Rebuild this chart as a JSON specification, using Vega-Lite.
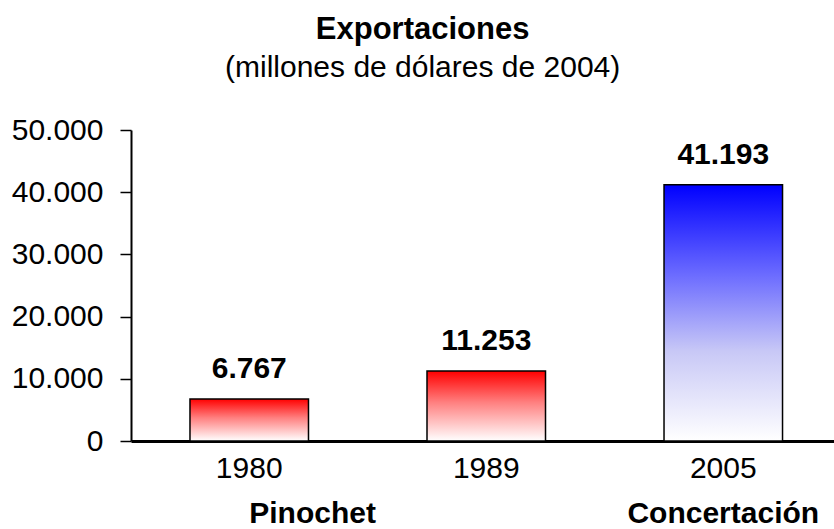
{
  "$schema": "https://vega.github.io/schema/vega-lite/v6.json",
  "autosize": "none",
  "padding": {"left": 131, "top": 130, "right": 0, "bottom": 88},
  "width": 703,
  "height": 311,
  "background": "white",
  "config": {
    "locale": {"number": {"decimal": ",", "thousands": ".", "grouping": [3], "currency": ["$", ""]}},
    "font": "Liberation Sans",
    "view": {"stroke": null}
  },
  "title": {
    "text": "Exportaciones",
    "subtitle": "(millones de dólares de 2004)",
    "font": "Liberation Sans",
    "subtitleFont": "Liberation Sans",
    "fontSize": 31,
    "subtitleFontSize": 30,
    "fontWeight": "bold",
    "color": "black",
    "subtitleColor": "black",
    "anchor": "middle",
    "frame": "bounds",
    "offset": 31,
    "subtitlePadding": 7
  },
  "data": {
    "values": [
      {"year": "1980", "valor": 6767, "gobierno": "Pinochet"},
      {"year": "1989", "valor": 11253, "gobierno": "Pinochet"},
      {"year": "2005", "valor": 41193, "gobierno": "Concertación"}
    ]
  },
  "resolve": {"axis": {"x": "independent"}},
  "layer": [
    {
      "transform": [{"filter": "datum.gobierno == 'Pinochet'"}],
      "mark": {
        "type": "bar",
        "stroke": "black",
        "strokeWidth": 1.5,
        "color": {"gradient": "linear", "x1": 0, "y1": 0, "x2": 0, "y2": 1,
          "stops": [{"offset": 0, "color": "#ff0000"}, {"offset": 0.45, "color": "#ff8080"}, {"offset": 1, "color": "#ffffff"}]}
      },
      "encoding": {
        "x": {
          "field": "year", "type": "nominal", "sort": null,
          "scale": {"domain": ["1980", "1989", "2005"], "paddingInner": 0.5, "paddingOuter": 0.233, "align": 0.534},
          "axis": {"orient": "bottom", "title": null, "labelAngle": 0, "ticks": false, "domainColor": "black", "domainWidth": 3,
            "labelFontSize": 30, "labelColor": "black", "labelPadding": 12, "labelFont": "Liberation Sans", "labelLimit": 0}
        },
        "y": {
          "field": "valor", "type": "quantitative",
          "scale": {"domain": [0, 50000], "nice": false},
          "axis": {"title": null, "values": [0, 10000, 20000, 30000, 40000, 50000], "format": ",d", "grid": false,
            "domainColor": "black", "domainWidth": 2, "tickColor": "black", "tickWidth": 1.5, "tickSize": 11,
            "labelPadding": 17, "labelFontSize": 30, "labelColor": "black", "labelFont": "Liberation Sans"}
        }
      }
    },
    {
      "transform": [{"filter": "datum.gobierno == 'Concertación'"}],
      "mark": {
        "type": "bar",
        "stroke": "black",
        "strokeWidth": 1.5,
        "color": {"gradient": "linear", "x1": 0, "y1": 0, "x2": 0, "y2": 1,
          "stops": [{"offset": 0, "color": "#0000ff"}, {"offset": 0.35, "color": "#6b6bff"}, {"offset": 0.65, "color": "#c8c8f6"}, {"offset": 1, "color": "#ffffff"}]}
      },
      "encoding": {
        "x": {"field": "year", "type": "nominal", "sort": null, "axis": null},
        "y": {"field": "valor", "type": "quantitative"}
      }
    },
    {
      "mark": {"type": "text", "fontSize": 30, "fontWeight": "bold", "color": "black", "baseline": "alphabetic", "dy": -21, "font": "Liberation Sans"},
      "encoding": {
        "x": {"field": "year", "type": "nominal", "sort": null, "axis": null},
        "y": {"field": "valor", "type": "quantitative"},
        "text": {"field": "valor", "type": "quantitative", "format": ",d"}
      }
    },
    {
      "mark": {"type": "text", "text": "", "opacity": 0},
      "encoding": {
        "x": {
          "field": "year", "type": "nominal", "sort": null,
          "axis": {"orient": "bottom", "title": null, "labelAngle": 0, "ticks": false, "domain": false,
            "labelExpr": "datum.value == '1980' ? 'Pinochet' : datum.value == '2005' ? 'Concertación' : ''",
            "labelAlign": {"condition": {"test": "datum.value == '1980'", "value": "left"}, "value": "center"},
            "labelFontSize": 30, "labelFontWeight": "bold", "labelColor": "black", "labelPadding": 57, "labelFont": "Liberation Sans", "labelLimit": 0}
        },
        "y": {"field": "valor", "type": "quantitative"}
      }
    }
  ]
}
